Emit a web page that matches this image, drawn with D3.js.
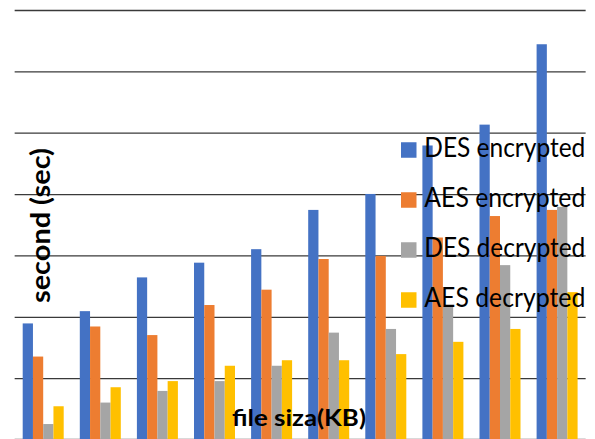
<!DOCTYPE html>
<html><head><meta charset="utf-8">
<script src="https://cdn.jsdelivr.net/npm/d3@7"></script>
<style>html,body{margin:0;padding:0;background:#fff;}svg{display:block;}</style>
</head><body>
<svg id="chart" width="595" height="439"></svg>
<script>
const categories = ["1","2","3","4","5","6","7","8","9","10"];
const seriesNames = ["DES encrypted","AES encrypted","DES decrypted","AES decrypted"];
const desEncrypted = [1.90, 2.10, 2.65, 2.89, 3.11, 3.75, 4.01, 4.80, 5.14, 6.45];
const aesEncrypted = [1.36, 1.85, 1.71, 2.20, 2.45, 2.95, 3.00, 3.30, 3.65, 3.75];
const desDecrypted = [0.26, 0.61, 0.80, 0.96, 1.21, 1.75, 1.81, 2.17, 2.85, 3.80];
const aesDecrypted = [0.55, 0.86, 0.96, 1.21, 1.30, 1.30, 1.40, 1.60, 1.81, 2.41];
const gridTicks = [1,2,3,4,5,6,7];
const colors = ["#4472C4","#ED7D31","#A5A5A5","#FFC000"];
const seriesValues = [desEncrypted, aesEncrypted, desDecrypted, aesDecrypted];

const svg = d3.select("#chart");
const x0 = d3.scaleBand().domain(categories).range([14.65, 585.65]).paddingInner(0.282).paddingOuter(0.141);
const x1 = d3.scaleBand().domain(seriesNames).range([0, x0.bandwidth()]);
const y = d3.scaleLinear().domain([0, 7]).range([440, 10.5]);

svg.append("line").attr("x1", 14.65).attr("x2", 585.65)
  .attr("y1", 438.5).attr("y2", 438.5).attr("stroke", "#d9d9d9").attr("stroke-width", 1);
svg.append("g").selectAll("line").data(gridTicks).join("line")
  .attr("x1", 14.65).attr("x2", 585.65)
  .attr("y1", d => y(d)).attr("y2", d => y(d))
  .attr("stroke", "#3a3a3a").attr("stroke-width", 1.3);

const groups = svg.append("g").selectAll("g").data(categories).join("g")
  .attr("transform", d => `translate(${x0(d)},0)`);
groups.selectAll("rect").data((c, ci) => seriesNames.map((s, si) => ({s, si, v: seriesValues[si][ci]})))
  .join("rect")
  .attr("x", d => x1(d.s)).attr("width", x1.bandwidth())
  .attr("y", d => y(d.v)).attr("height", d => y(0) - y(d.v))
  .attr("fill", d => colors[d.si]);

const leg = svg.append("g");
seriesNames.forEach((s, i) => {
  const cy = 150 + i * 50;
  leg.append("rect").attr("x", 401).attr("y", cy - 7.75).attr("width", 15.5).attr("height", 15.5).attr("fill", colors[i]);
  leg.append("text").attr("x", 424.3).attr("y", cy + 7.3)
    .attr("font-family", "Lato, 'Open Sans', sans-serif").attr("font-size", 26)
    .attr("textLength", 161).attr("lengthAdjust", "spacingAndGlyphs")
    .attr("fill", "#000").text(s);
});

svg.append("text")
  .attr("transform", "translate(50,225.5) rotate(-90)")
  .attr("text-anchor", "middle")
  .attr("font-family", "Lato, 'Open Sans', sans-serif").attr("font-weight", "bold")
  .attr("font-size", 26).attr("textLength", 155).attr("lengthAdjust", "spacingAndGlyphs")
  .attr("fill", "#000").text("second (sec)");

svg.append("text")
  .attr("x", 299).attr("y", 425.5).attr("text-anchor", "middle")
  .attr("font-family", "Lato, 'Open Sans', sans-serif").attr("font-weight", "bold")
  .attr("font-size", 22).attr("textLength", 134).attr("lengthAdjust", "spacingAndGlyphs")
  .attr("fill", "#000").text("file siza(KB)");
</script>
</body></html>
